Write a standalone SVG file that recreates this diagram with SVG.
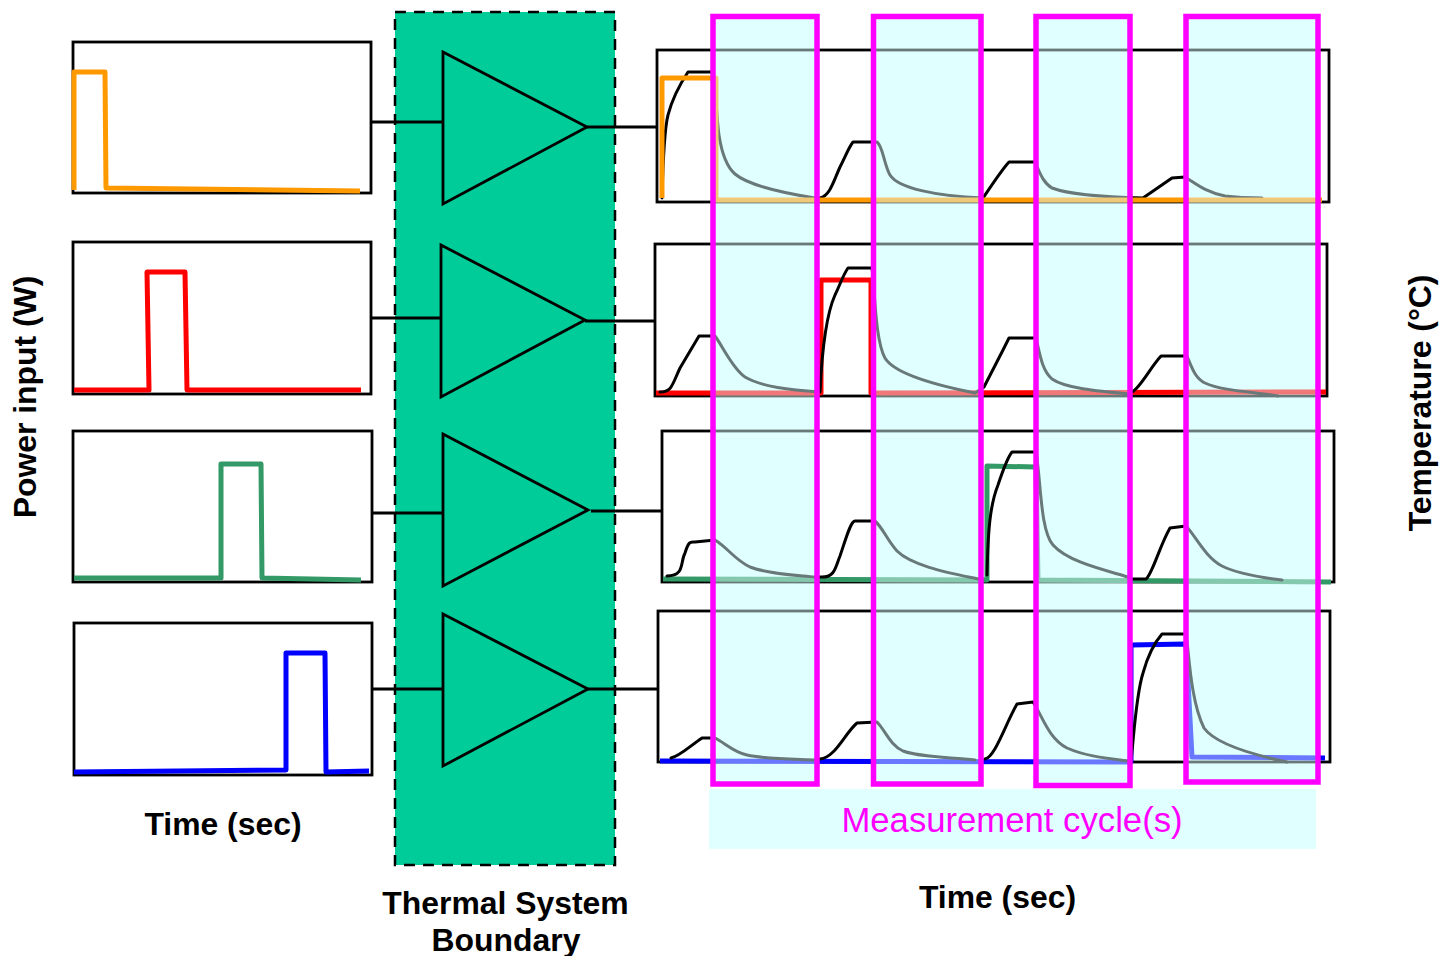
<svg xmlns="http://www.w3.org/2000/svg" width="1441" height="956" viewBox="0 0 1441 956">
<style>
.base{fill:#e0ffff;stroke:none}
.frame{fill:none;stroke:#000;stroke-width:2.800}
.sig{fill:none;stroke-width:5;stroke-linejoin:round}
.tmp{fill:none;stroke:#000;stroke-width:3;stroke-linejoin:round;stroke-linecap:round}
.tri{fill:none;stroke:#000;stroke-width:2.800}
.wire{fill:none;stroke:#000;stroke-width:2.800}
.win{fill:#e0ffff;fill-opacity:.47;stroke:#f0f;stroke-width:5.500}
.b{font-family:"Liberation Sans",Arial,sans-serif;font-weight:bold;font-size:31.900px;fill:#000;text-anchor:middle}
</style>
<rect width="1441" height="956" fill="#fff"/>
<g id="boundary"><rect x="395" y="12" width="220" height="853" fill="#00cc99" stroke="#000" stroke-width="2.500" stroke-dasharray="11 8"/></g>
<g id="window-base">
<rect class="base" x="713" y="16.5" width="104" height="767.5"/>
<rect class="base" x="873.5" y="16.5" width="107.5" height="767.5"/>
<rect class="base" x="1036" y="16.5" width="94" height="769"/>
<rect class="base" x="1186" y="16.5" width="132" height="765.5"/>
<rect class="base" x="709" y="789" width="607" height="60"/>
</g>
<g id="connectors">
<path class="wire" d="M371 122H443M371 318H441M373 513H443M373 689H443M587 127H657M585 321H655M591 511H662M588 689H658"/>
</g>
<g id="input-1"><rect class="frame" x="73" y="42" width="298" height="151"/><polyline class="sig" stroke="#ff9900" points="74,190 74,72 105,72 106,188 360,191"/></g>
<g id="input-2"><rect class="frame" x="73" y="242" width="298" height="152"/><polyline class="sig" stroke="#ff0000" points="74,390 149,390 147,272 185,272 187,390 361,390"/></g>
<g id="input-3"><rect class="frame" x="73" y="431" width="299" height="151"/><polyline class="sig" stroke="#339966" points="74,578 221,578 221,464 261,464 262,578 361,580"/></g>
<g id="input-4"><rect class="frame" x="74" y="623" width="298" height="152"/><polyline class="sig" stroke="#0000ff" points="74,772 286,770 286,653 325,653 326,772 369,771"/></g>
<g id="system-1"><polygon class="tri" points="443,52 587,127 443,204"/></g>
<g id="system-2"><polygon class="tri" points="441,245 585,320 441,397"/></g>
<g id="system-3"><polygon class="tri" points="443,434 588,510 443,586"/></g>
<g id="system-4"><polygon class="tri" points="443,614 588,689 443,766"/></g>
<g id="output-1"><rect class="frame" x="657" y="50" width="672" height="152"/>
<path class="tmp" d="M662 198C663 160 664 130 668 115C672 100 680 84 688 72H712C716 80 716 115 719 135C722 155 727 167 735 174C750 187 790 194 815 198H820C830 196 834 180 840 167C846 155 849 147 853 142H877C883 146 884 165 890 175C898 188 935 196 983 198C990 188 1000 172 1009 162H1035C1039 170 1042 182 1052 188C1068 194 1095 197 1143 198L1172 178L1185 177C1195 183 1205 192 1225 196C1240 198 1250 198 1262 198"/>
<polyline class="sig" stroke="#ff9900" points="662,198 662,78 716,78 716,200 1322,200"/></g>
<g id="output-2"><rect class="frame" x="655" y="244" width="672" height="152"/>
<polyline class="sig" stroke="#ff0000" points="656,393 821,393 821,280 871,280 871,393 1326,392"/>
<path class="tmp" d="M660 392C672 392 672 385 680 368L699 336H715C722 345 732 368 745 377C762 387 790 390 820 392C822 350 826 315 835 295C840 285 843 275 848 268H872C875 290 875 340 885 358C895 375 940 386 975 393L984 387L1003 350L1009 338H1036C1040 355 1042 370 1052 379C1065 388 1095 391 1130 394M1132 392C1140 388 1150 368 1161 356H1187C1192 368 1195 378 1205 383C1222 391 1255 392 1278 396"/></g>
<g id="output-3"><rect class="frame" x="662" y="431" width="672" height="151"/>
<polyline class="sig" stroke="#339966" points="663,579 987,580 987,466 1036,467 1038,580 1331,582"/>
<path class="tmp" d="M667 576C685 576 680 562 685 553C689 540 691 542 695 542L715 540C728 548 735 560 750 567C768 574 795 575 815 577M820 577C835 578 835 568 840 556C847 535 851 521 855 521H875C883 528 887 540 897 551C912 566 950 573 978 579M987 575C988 530 990 505 998 485C1003 470 1007 458 1012 452H1036C1041 480 1040 530 1053 545C1068 562 1105 570 1128 577M1132 579H1146C1152 575 1160 545 1170 528L1186 526C1195 535 1205 557 1222 566C1238 574 1265 578 1282 580"/></g>
<g id="output-4"><rect class="frame" x="658" y="611" width="672" height="151"/>
<polyline class="sig" stroke="#0000ff" points="660,761 1131,762 1131,645 1186,644 1192,757 1325,758"/>
<path class="tmp" d="M671 758C680 756 690 746 702 738H715C725 743 733 752 747 755C765 759 790 759 815 760M820 759C835 758 845 733 857 723L877 722C885 730 890 745 903 751C920 757 945 757 975 760M985 759C995 757 1005 725 1017 704L1033 702C1042 715 1048 738 1067 748C1085 756 1105 758 1128 761M1131 761C1134 735 1136 695 1143 673C1148 655 1155 642 1162 634H1186C1189 650 1190 700 1204 728C1213 741 1240 752 1287 762"/></g>
<g id="measurement-windows">
<rect class="win" x="713" y="16.5" width="104" height="767.5"/>
<rect class="win" x="873.5" y="16.5" width="107.5" height="767.5"/>
<rect class="win" x="1036" y="16.5" width="94" height="769"/>
<rect class="win" x="1186" y="16.5" width="132" height="765.5"/>
</g>
<g id="labels">
<text class="b" transform="translate(36 397) rotate(-90)">Power input (W)</text>
<text class="b" transform="translate(1431 403) rotate(-90)">Temperature (°C)</text>
<text class="b" x="223" y="835">Time (sec)</text>
<text class="b" x="505.500" y="914">Thermal System</text>
<text class="b" x="506" y="951">Boundary</text>
<text class="b" x="997.500" y="908">Time (sec)</text>
<text x="1012" y="832" text-anchor="middle" font-family="'Liberation Sans',Arial,sans-serif" font-size="34.700" fill="#ff00ff">Measurement cycle(s)</text>
</g>
</svg>
